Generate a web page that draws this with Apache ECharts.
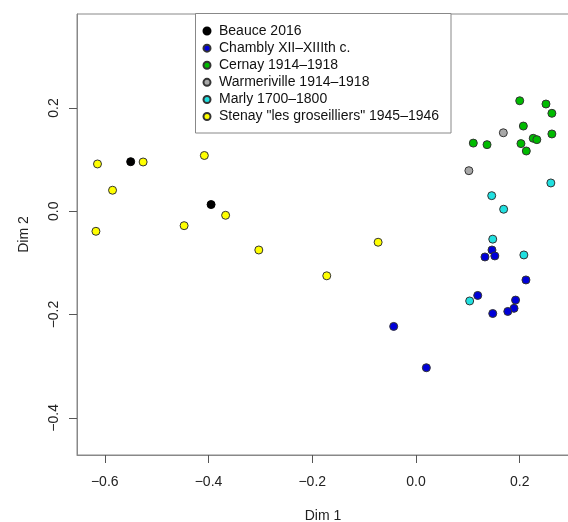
<!DOCTYPE html>
<html>
<head>
<meta charset="utf-8">
<script src="https://cdn.jsdelivr.net/npm/echarts@6/dist/echarts.min.js"></script>
<style>
html,body{margin:0;padding:0;background:#fff;}
#c{width:568px;height:522px;}
</style>
</head>
<body>
<div id="c"></div>
<script>
// ---- data ----
const seriesNames = ['Beauce 2016', 'Chambly XII\u2013XIIIth c.', 'Cernay 1914\u20131918', 'Warmeriville 1914\u20131918', 'Marly 1700\u20131800', 'Stenay "les groseilliers" 1945\u20131946'];
const beauceX = [-0.550, -0.395];
const beauceY = [0.096, 0.013];
const chamblyX = [-0.043, 0.020, 0.1465, 0.133, 0.152, 0.212, 0.119, 0.192, 0.189, 0.177, 0.148];
const chamblyY = [-0.223, -0.303, -0.075, -0.0885, -0.0865, -0.133, -0.163, -0.172, -0.188, -0.194, -0.198];
const cernayX = [0.200, 0.2506, 0.262, 0.207, 0.226, 0.233, 0.262, 0.1105, 0.137, 0.2024, 0.2127];
const cernayY = [0.214, 0.2077, 0.1897, 0.165, 0.1413, 0.1387, 0.1497, 0.132, 0.129, 0.131, 0.1167];
const warmX = [0.1684, 0.102];
const warmY = [0.152, 0.0786];
const marlyX = [0.260, 0.146, 0.169, 0.148, 0.208, 0.1035];
const marlyY = [0.0548, 0.0302, 0.0039, -0.054, -0.0846, -0.1737];
const stenayX = [-0.614, -0.526, -0.408, -0.585, -0.367, -0.447, -0.617, -0.303, -0.073, -0.172];
const stenayY = [0.0916, 0.0954, 0.108, 0.0407, -0.0078, -0.0279, -0.0388, -0.075, -0.060, -0.125];
const xTicks = [-0.6, -0.4, -0.2, 0.0, 0.2];
const yTicks = [-0.4, -0.2, 0.0, 0.2];

const colors = ['#000000', '#0000D8', '#00BB00', '#A8A8A8', '#20E0E0', '#FFFF00'];
const xs = [beauceX, chamblyX, cernayX, warmX, marlyX, stenayX];
const ys = [beauceY, chamblyY, cernayY, warmY, marlyY, stenayY];

function fmt(v){ return v.toFixed(1).replace('-', '\u2212'); }

const FONT = '"Liberation Sans", Arial, Helvetica, sans-serif';

const series = seriesNames.map((n, i) => ({
  name: n,
  type: 'scatter',
  symbol: 'circle',
  symbolSize: 8,
  data: xs[i].map((x, k) => [x, ys[i][k]]),
  itemStyle: { color: colors[i], borderColor: i === 0 ? '#000' : '#333', borderWidth: 1, opacity: 1 },
  emphasis: { disabled: true },
  z: 2
}));

const chart = echarts.init(document.getElementById('c'), null, { renderer: 'canvas' });
chart.setOption({
  animation: false,
  backgroundColor: '#fff',
  textStyle: { fontFamily: FONT },
  grid: { left: 77, top: 14, width: 492, height: 441, show: true, borderColor: '#888', borderWidth: 1, backgroundColor: 'transparent', containLabel: false, outerBoundsMode: 'none' },
  xAxis: {
    type: 'value', min: -0.6535, max: 0.295,
    splitLine: { show: false },
    axisLine: { show: true, onZero: false, lineStyle: { color: '#888', width: 1 } },
    axisTick: { show: true, customValues: xTicks, length: 8, lineStyle: { color: '#555', width: 1 } },
    axisLabel: { customValues: xTicks, formatter: fmt, margin: 20, fontSize: 14, color: '#222', fontFamily: FONT },
    name: 'Dim 1', nameLocation: 'middle', nameGap: 54,
    nameTextStyle: { fontSize: 14, color: '#222', fontFamily: FONT }
  },
  yAxis: {
    type: 'value', min: -0.472, max: 0.382,
    splitLine: { show: false },
    axisLine: { show: true, onZero: false, lineStyle: { color: '#888', width: 1 } },
    axisTick: { show: true, customValues: yTicks, length: 8, lineStyle: { color: '#555', width: 1 } },
    axisLabel: { customValues: yTicks, formatter: fmt, margin: 16, rotate: 90, fontSize: 14, color: '#222', fontFamily: FONT },
    name: 'Dim 2', nameLocation: 'middle', nameGap: 46, nameRotate: 90,
    nameTextStyle: { fontSize: 14, color: '#222', fontFamily: FONT }
  },
  legend: {
    orient: 'vertical',
    left: 202.5, top: 22.5,
    padding: 0,
    itemGap: 0,
    itemWidth: 14, itemHeight: 7,
    icon: 'circle',
    selectedMode: false,
    data: seriesNames,
    textStyle: { fontSize: 14, color: '#111', fontFamily: FONT, lineHeight: 17.1 },
    z: 10
  },
  graphic: [{
    type: 'rect', z: 5,
    shape: { x: 195.5, y: 13.5, width: 255.5, height: 119.5 },
    style: { fill: '#fff', stroke: '#888', lineWidth: 1 }
  }],
  series: series
});
</script>
</body>
</html>
